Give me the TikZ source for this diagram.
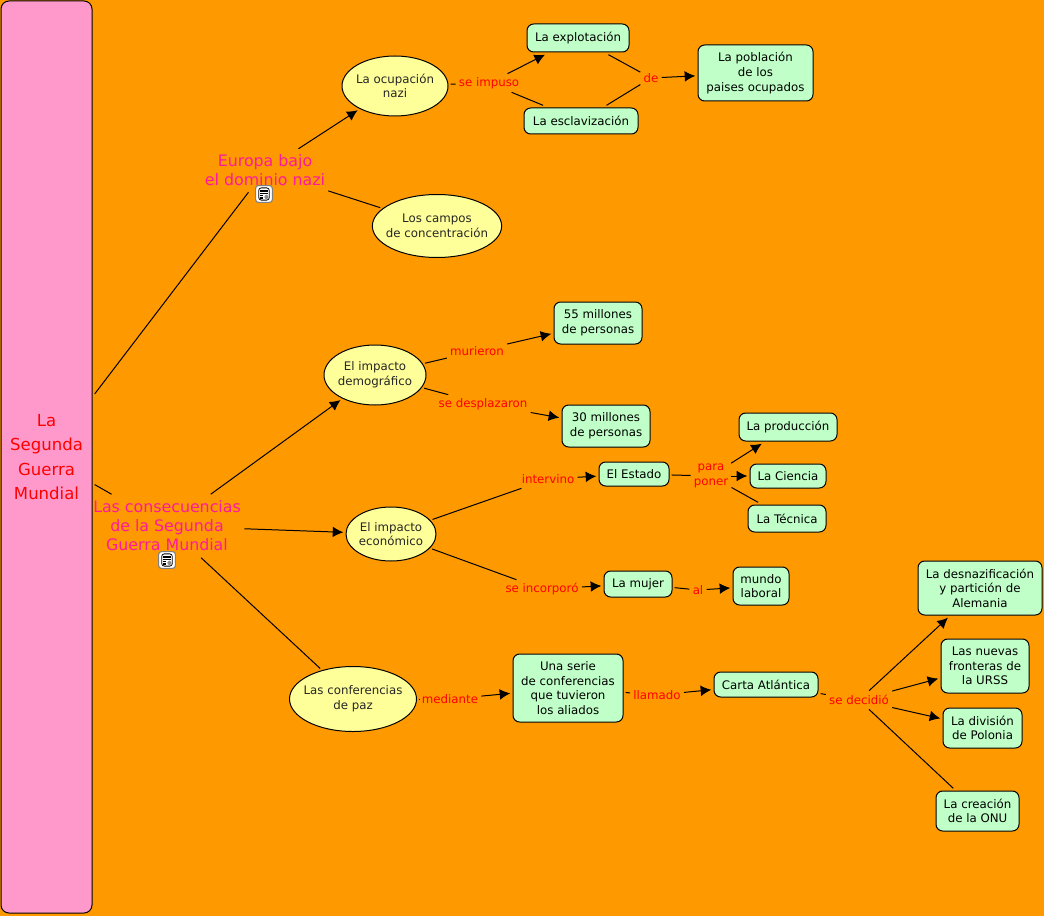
\documentclass[tikz,border=0pt]{standalone}
\usepackage{fontspec}
\setmainfont{DejaVu Sans}
\usepackage{xcolor}
\definecolor{cmorange}{HTML}{FF9900}
\definecolor{cmpink}{HTML}{FF99CC}
\definecolor{cmgreen}{HTML}{C0FFC8}
\definecolor{cmyellow}{HTML}{FFFF99}
\definecolor{cmmagenta}{HTML}{FF1A9C}
\usetikzlibrary{arrows.meta,shapes.geometric}

\begin{document}
\begin{tikzpicture}[x=0.75pt,y=-0.75pt,>={Latex[length=8pt,width=8pt]}]
\tikzset{
 wh/.style 2 args={minimum width=#1*0.75pt,minimum height=#2*0.75pt},
 box/.style={draw=black,line width=0.75pt,rounded corners=5pt,fill=cmgreen,inner sep=0pt,outer sep=2pt,align=center,font=\fontsize{8.85}{10.9}\selectfont},
 oval/.style={ellipse,draw=black,line width=0.75pt,fill=cmyellow,inner xsep=-4pt,inner ysep=0pt,outer sep=2pt,align=center,font=\fontsize{8.85}{10.9}\selectfont,text=black!85},
 topic/.style={inner sep=0pt,align=center,text=cmmagenta,font=\fontsize{11.85}{14.2}\selectfont},
 link/.style={inner sep=0pt,outer xsep=2.5pt,outer ysep=0.75pt,align=center,text=red,minimum height=12.5pt,font=\fontsize{8.85}{10.9}\selectfont},
 line/.style={draw=black,line width=0.75pt},
 arrow/.style={line,->},
 docicon/.style={draw=black!50,line width=0.8pt,fill=white,rounded corners=2pt,minimum size=12.5pt,inner sep=0pt,
  path picture={
   \draw[black,line width=0.6pt] (path picture bounding box.center) ++(-4pt,-4.6pt) rectangle ++(8pt,9.2pt);
   \fill[black!45] (path picture bounding box.center) ++(0.2pt,-3.9pt) rectangle ++(3.2pt,3.4pt);
   \foreach \ly in {-3.4,-2.2,-1}{\draw[black,line width=0.4pt] (path picture bounding box.center) ++(-3.2pt,\ly pt) -- ++(2.8pt,0pt);}
   \foreach \ly in {0.6,1.8,3}{\draw[black,line width=0.4pt] (path picture bounding box.center) ++(-3.2pt,\ly pt) -- ++(6.4pt,0pt);}
  }}
}
\useasboundingbox[fill=cmorange] (0,0) rectangle (1044,916);
% main bar
\node[draw=black,line width=0.75pt,rounded corners=6pt,fill=cmpink,wh={91}{912},inner sep=0pt,outer sep=2pt,align=center,text=red,font=\fontsize{12.4}{18.2}\selectfont] (guerra) at (46.5,457) {La\\Segunda\\Guerra\\Mundial};
% topics
\node[topic,wh={126}{43}] (europa) at (265,170.5) {Europa bajo\\el dominio nazi};
\node[topic,wh={154}{63}] (cons) at (167,526) {Las consecuencias\\de la Segunda\\Guerra Mundial};
\node[docicon] (iconeuropa) at (264,194) {};
\node[docicon] (iconcons) at (167,560) {};
% ovals
\node[oval,wh={106}{60}] (ocup) at (395,86) {La ocupación\\nazi};
\node[oval,wh={127}{63}] (campos) at (437,226) {Los campos\\de concentración};
\node[oval,wh={102}{60}] (demo) at (375,375) {El impacto\\demográfico};
\node[oval,wh={90}{54}] (econ) at (391,534) {El impacto\\económico};
\node[oval,wh={127}{65}] (paz) at (353,699) {Las conferencias\\de paz};
% boxes
\node[box,wh={102}{28}] (explot) at (578,38) {La explotación};
\node[box,wh={114}{26}] (esclav) at (581,121) {La esclavización};
\node[box,wh={115}{56}] (pobl) at (755.5,73) {La población\\de los\\paises ocupados};
\node[box,wh={88}{42}] (mill55) at (598,323) {55 millones\\de personas};
\node[box,wh={88}{42}] (mill30) at (606,426) {30 millones\\de personas};
\node[box,wh={98}{28}] (prod) at (788,427) {La producción};
\node[box,wh={76}{24}] (ciencia) at (788,476) {La Ciencia};
\node[box,wh={78}{27}] (tecnica) at (787,518.5) {La Técnica};
\node[box,wh={70}{24}] (estado) at (634,474) {El Estado};
\node[box,wh={68}{26}] (mujer) at (638,584) {La mujer};
\node[box,wh={56}{38}] (mundo) at (761,586) {mundo\\laboral};
\node[box,wh={110}{68}] (serie) at (568,688) {Una serie\\de conferencias\\que tuvieron\\los aliados};
\node[box,wh={104}{25}] (carta) at (766,684.5) {Carta Atlántica};
\node[box,wh={124}{54}] (desnaz) at (980,588) {La desnazificación\\y partición de\\Alemania};
\node[box,wh={88}{54}] (fronteras) at (985,666) {Las nuevas\\fronteras de\\la URSS};
\node[box,wh={79}{40}] (polonia) at (982.5,728) {La división\\de Polonia};
\node[box,wh={83}{40}] (onu) at (977.5,811) {La creación\\de la ONU};
% links
\node[link] (impuso) at (489,83) {se impuso};
\node[link] (de) at (651,78) {de};
\node[link] (murieron) at (477,351) {murieron};
\node[link] (desplaz) at (483,404) {se desplazaron};
\node[link] (intervino) at (548,479) {intervino};
\node[link] (poner) at (711,476) {para\\poner};
\node[link] (incorp) at (542,589) {se incorporó};
\node[link] (al) at (698,590) {al};
\node[link] (mediante) at (450,699) {mediante};
\node[link] (llamado) at (657,695) {llamado};
\node[link] (decidio) at (859,700) {se decidió};
% connectors
\draw[line] (guerra)--(europa);
\draw[line] (guerra)--(cons);
\draw[arrow] (europa)--(ocup);
\draw[line] (europa)--(campos);
\draw[line] (ocup)--(impuso);
\draw[arrow] (impuso)--(explot);
\draw[line] (impuso)--(esclav);
\draw[line] (explot)--(de);
\draw[line] (esclav)--(de);
\draw[arrow] (de)--(pobl);
\draw[arrow] (cons)--(demo);
\draw[arrow] (cons)--(econ);
\draw[line] (cons)--(paz);
\draw[line] (demo)--(murieron);
\draw[arrow] (murieron)--(mill55);
\draw[line] (demo)--(desplaz);
\draw[arrow] (desplaz)--(mill30);
\draw[line] (econ)--(intervino);
\draw[arrow] (intervino)--(estado);
\draw[line] (estado)--(poner);
\draw[arrow] (poner)--(prod);
\draw[arrow] (poner)--(ciencia);
\draw[line] (poner)--(tecnica);
\draw[line] (econ)--(incorp);
\draw[arrow] (incorp)--(mujer);
\draw[line] (mujer)--(al);
\draw[arrow] (al)--(mundo);
\draw[line] (paz)--(mediante);
\draw[arrow] (mediante)--(serie);
\draw[line] (serie)--(llamado);
\draw[arrow] (llamado)--(carta);
\draw[line] (carta)--(decidio);
\draw[arrow] (decidio)--(desnaz);
\draw[arrow] (decidio)--(fronteras);
\draw[arrow] (decidio)--(polonia);
\draw[line] (decidio)--(onu);
\end{tikzpicture}
\end{document}
